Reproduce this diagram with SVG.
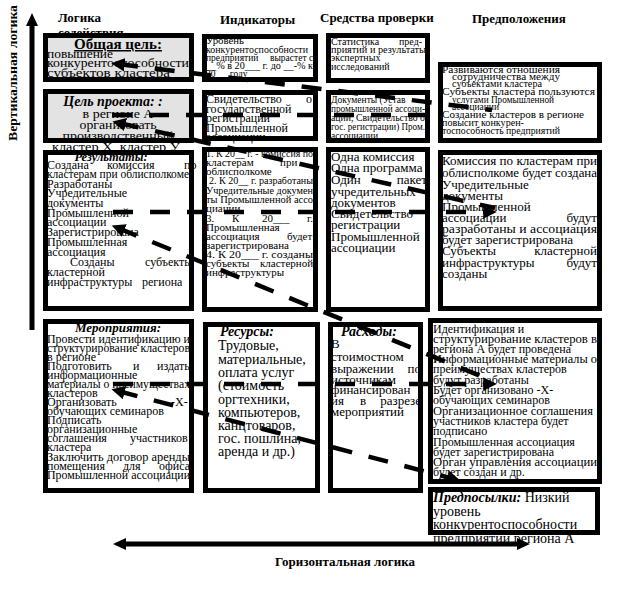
<svg xmlns="http://www.w3.org/2000/svg" width="623" height="607" viewBox="0 0 623 607">
<defs>
<style>
text{font-family:"Liberation Serif","Times New Roman",serif;fill:#000}
.hd{font-weight:bold;font-size:13px}
.bi{font-weight:bold;font-style:italic}
.bg{fill:#fff;stroke:none}
.gr{fill:#e3e3e3;stroke:none}
.bd{fill:none;stroke:#000;stroke-width:5}
.dl{fill:none;stroke:#000;stroke-width:4.5;stroke-dasharray:20 17}
.ax{fill:#000}
.f95{font-size:9.5px}.f10{font-size:10px}.f11{font-size:11px}.f12{font-size:12px}.f125{font-size:12.5px}.f13{font-size:13px}.f135{font-size:13.5px}.f14{font-size:14px}
</style>
<marker id="ah" viewBox="0 0 10 10" refX="5" refY="5" markerWidth="3" markerHeight="3" orient="auto-start-reverse" markerUnits="strokeWidth">
<path d="M0,0 L10,5 L0,10 z" fill="#000"/>
</marker>
</defs>
<rect x="0" y="0" width="623" height="607" fill="#fff"/>

<g id="headers">
<text class="hd" x="58" y="22">Логика</text>
<text class="hd" x="58" y="37">содействия</text>
<text class="hd" x="220" y="24">Индикаторы</text>
<text class="hd" x="320" y="22">Средства проверки</text>
<text class="hd" x="472" y="23">Предположения</text>
<text class="hd" transform="translate(17,141) rotate(-90)" textLength="136" lengthAdjust="spacingAndGlyphs">Вертикальная логика</text>
<text class="hd" x="345" y="566" text-anchor="middle">Горизонтальная логика</text>
</g>

<g id="axes">
<path class="ax" d="M32,13 L38,26 L34.5,26 L34.5,330 L29.5,330 L29.5,26 L26,26 Z"/>
<path class="ax" d="M113,544 L126,538 L126,541.5 L517,541.5 L517,538 L530,544 L517,550 L517,546.5 L126,546.5 L126,550 Z"/>
</g>

<g id="goal">
<rect class="gr" x="43" y="33" width="151" height="49"/>
<text x="118" y="49" text-anchor="middle" font-size="15" font-weight="bold" text-decoration="underline">Общая цель:</text>
<text class="f125" x="47" y="58" textLength="66" lengthAdjust="spacingAndGlyphs">повышение</text>
<text class="f125" x="47" y="67" textLength="142" lengthAdjust="spacingAndGlyphs">конкурентоспособности</text>
<text class="f125" x="47" y="77" textLength="123" lengthAdjust="spacingAndGlyphs">субъектов кластера</text>
<rect class="bd" x="45.5" y="35.5" width="146" height="44"/>
</g>

<g id="purpose">
<rect class="gr" x="43" y="89" width="151" height="54"/>
<text class="bi" x="113" y="106" font-size="14" text-anchor="middle">Цель проекта: :</text>
<text class="f13" x="118" y="118" text-anchor="middle" textLength="71" lengthAdjust="spacingAndGlyphs">в регионе А</text>
<text class="f13" x="118" y="129" text-anchor="middle" textLength="77" lengthAdjust="spacingAndGlyphs">организовать</text>
<text class="f13" x="118" y="140" text-anchor="middle" textLength="111" lengthAdjust="spacingAndGlyphs">производственный</text>
<text class="f13" x="116" y="151" text-anchor="middle" textLength="128" lengthAdjust="spacingAndGlyphs">кластер Х, кластер У</text>
<rect class="bd" x="45.5" y="91.5" width="146" height="49"/>
</g>

<g id="results">
<rect class="bg" x="43" y="150" width="151" height="161"/>
<text class="bi" x="111" y="161" font-size="12.5" text-anchor="middle">Результаты:</text>
<text class="f12" y="169"><tspan x="47">Создана</tspan><tspan x="107">комиссия</tspan><tspan x="184">по</tspan></text>
<text class="f12" x="47" y="178" textLength="142" lengthAdjust="spacingAndGlyphs">кластерам при облисполкоме</text>
<text class="f12" x="47" y="188">Разработаны</text>
<text class="f12" x="47" y="197">Учредительные</text>
<text class="f12" x="47" y="207">документы</text>
<text class="f12" x="47" y="217">Промышленной</text>
<text class="f12" x="47" y="226">ассоциации</text>
<text class="f12" x="47" y="236">Зарегистрирована</text>
<text class="f12" x="47" y="246">Промышленная</text>
<text class="f12" x="47" y="256">ассоциация</text>
<text class="f12" y="266"><tspan x="70">Созданы</tspan><tspan x="145">субъекты</tspan></text>
<text class="f12" x="47" y="276">кластерной</text>
<text class="f12" y="286"><tspan x="47">инфраструктуры</tspan><tspan x="142">региона</tspan></text>
<rect class="bd" x="45.5" y="152.5" width="146" height="156"/>
</g>

<g id="activities">
<rect class="bg" x="43" y="319" width="151" height="174"/>
<text class="bi" x="118" y="332" font-size="13" text-anchor="middle">Мероприятия:</text>
<text class="f12" x="47" y="343" textLength="143" lengthAdjust="spacingAndGlyphs">Провести идентификацию и</text>
<text class="f12" x="47" y="352" textLength="143" lengthAdjust="spacingAndGlyphs">структурирование кластеров</text>
<text class="f12" x="47" y="361">в регионе</text>
<text class="f12" y="370"><tspan x="47">Подготовить</tspan><tspan x="133">и</tspan><tspan x="157">издать</tspan></text>
<text class="f12" x="47" y="379">информационные</text>
<text class="f12" x="47" y="388" textLength="143" lengthAdjust="spacingAndGlyphs">материалы о преимуществах</text>
<text class="f12" x="47" y="397">кластеров</text>
<text class="f12" y="406"><tspan x="47">Организовать</tspan><tspan x="171">-Х-</tspan></text>
<text class="f12" x="47" y="415">обучающих семинаров</text>
<text class="f12" x="47" y="424">Подписать</text>
<text class="f12" x="47" y="433">организационные</text>
<text class="f12" y="442"><tspan x="47">соглашения</tspan><tspan x="130">участников</tspan></text>
<text class="f12" x="47" y="451">кластера</text>
<text class="f12" x="47" y="461" textLength="143" lengthAdjust="spacingAndGlyphs">Заключить договор аренды</text>
<text class="f12" y="470"><tspan x="47">помещения</tspan><tspan x="123">для</tspan><tspan x="159">офиса</tspan></text>
<text class="f12" x="47" y="479" textLength="143" lengthAdjust="spacingAndGlyphs">Промышленной ассоциации</text>
<rect class="bd" x="45.5" y="321.5" width="146" height="169"/>
</g>

<g id="ind-goal">
<rect class="bg" x="202" y="34" width="116" height="48"/>
<text class="f95" x="206" y="44" textLength="38" lengthAdjust="spacingAndGlyphs">Уровень</text>
<text class="f95" x="206" y="53" textLength="102" lengthAdjust="spacingAndGlyphs">конкурентоспособности</text>
<text class="f95" y="61"><tspan x="206">предприятий</tspan><tspan x="270">вырастет</tspan><tspan x="309">с</tspan></text>
<text class="f95" x="206" y="69" textLength="107" lengthAdjust="spacingAndGlyphs">__% в 20___ г. до __-% к</text>
<text class="f95" x="206" y="77">20___году</text>
<rect class="bd" x="204.5" y="36.5" width="111" height="43"/>
</g>

<g id="ind-purpose">
<rect class="bg" x="202" y="90" width="116" height="51"/>
<text class="f12" y="103"><tspan x="206">Свидетельство</tspan><tspan x="306">о</tspan></text>
<text class="f12" x="206" y="113">государственной</text>
<text class="f12" x="206" y="122">регистрации</text>
<text class="f12" x="206" y="132">Промышленной</text>
<text class="f12" x="206" y="141">ассоциации</text>
<rect class="bd" x="204.5" y="92.5" width="111" height="46"/>
</g>

<g id="ind-results">
<rect class="bg" x="202" y="147" width="116" height="165"/>
<text class="f11" x="206" y="157" textLength="107" lengthAdjust="spacingAndGlyphs">1. К 20__ г. - комиссия по</text>
<text class="f11" y="166"><tspan x="206">кластерам</tspan><tspan x="280">при</tspan></text>
<text class="f11" x="206" y="175">облисполкоме</text>
<text class="f11" x="209" y="184" textLength="104" lengthAdjust="spacingAndGlyphs">2. К 20__ г. разработаны</text>
<text class="f11" x="206" y="194" textLength="107" lengthAdjust="spacingAndGlyphs">Учредительные докумен</text>
<text class="f11" x="206" y="203" textLength="107" lengthAdjust="spacingAndGlyphs">ты Промышленной ассо</text>
<text class="f11" x="206" y="212">циации</text>
<text class="f11" y="222"><tspan x="206">3.</tspan><tspan x="232">К</tspan><tspan x="262">20___</tspan><tspan x="307">г.</tspan></text>
<text class="f11" x="206" y="231">Промышленная</text>
<text class="f11" y="240"><tspan x="206">ассоциация</tspan><tspan x="287">будет</tspan></text>
<text class="f11" x="206" y="249">зарегистрирована</text>
<text class="f11" x="206" y="258" textLength="107" lengthAdjust="spacingAndGlyphs">4. К 20___ г. созданы</text>
<text class="f11" y="267"><tspan x="206">субъекты</tspan><tspan x="260">кластерной</tspan></text>
<text class="f11" x="206" y="276">инфраструктуры</text>
<rect class="bd" x="204.5" y="149.5" width="111" height="160"/>
</g>

<g id="resources">
<rect class="bg" x="203" y="322" width="117" height="171"/>
<text class="bi" x="220" y="336" font-size="14">Ресурсы:</text>
<text class="f14" x="218" y="350">Трудовые,</text>
<text class="f14" x="218" y="364">материальные,</text>
<text class="f14" x="218" y="377">оплата услуг</text>
<text class="f14" x="218" y="390">(стоимость</text>
<text class="f14" x="218" y="404">оргтехники,</text>
<text class="f14" x="218" y="417">компьютеров,</text>
<text class="f14" x="218" y="430">канцтоваров,</text>
<text class="f14" x="218" y="443">гос. пошлина,</text>
<text class="f14" x="218" y="456">аренда и др.)</text>
<rect class="bd" x="205.5" y="324.5" width="112" height="166"/>
</g>

<g id="mov-goal">
<rect class="bg" x="326" y="33" width="104" height="50"/>
<text class="f10" y="45"><tspan x="331">Статистика</tspan><tspan x="399">пред-</tspan></text>
<text class="f10" x="331" y="53" textLength="95" lengthAdjust="spacingAndGlyphs">приятий и результаты</text>
<text class="f10" x="331" y="61">экспертных</text>
<text class="f10" x="331" y="70">исследований</text>
<rect class="bd" x="328.5" y="35.5" width="99" height="45"/>
</g>

<g id="mov-purpose">
<rect class="bg" x="326" y="90" width="104" height="53"/>
<text class="f95" x="331" y="103">Документы (Устав</text>
<text class="f95" x="331" y="112" textLength="94" lengthAdjust="spacingAndGlyphs">промышленной ассоци-</text>
<text class="f95" x="331" y="121" textLength="94" lengthAdjust="spacingAndGlyphs">ации, Свидетельство о</text>
<text class="f95" x="331" y="130" textLength="94" lengthAdjust="spacingAndGlyphs">гос. регистрации) Пром.</text>
<text class="f95" x="331" y="139">ассоциации</text>
<rect class="bd" x="328.5" y="92.5" width="99" height="48"/>
</g>

<g id="mov-results">
<rect class="bg" x="326" y="147" width="104" height="165"/>
<text class="f13" x="331" y="161">Одна комиссия</text>
<text class="f13" x="331" y="172">Одна программа</text>
<text class="f13" x="331" y="184">Один</text>
<text class="f13" x="427" y="184" text-anchor="end">пакет</text>
<text class="f13" x="331" y="196">учредительных</text>
<text class="f13" x="331" y="207">документов</text>
<text class="f13" x="331" y="218">Свидетельство</text>
<text class="f13" x="331" y="229">регистрации</text>
<text class="f13" x="331" y="241">Промышленной</text>
<text class="f13" x="331" y="252">ассоциации</text>
<rect class="bd" x="328.5" y="149.5" width="99" height="160"/>
</g>

<g id="costs">
<rect class="bg" x="328" y="322" width="95" height="171"/>
<text class="bi" x="341" y="336" font-size="14">Расходы:</text>
<text class="f13" x="331" y="348">В</text>
<text class="f13" x="331" y="361">стоимостном</text>
<text class="f13" x="331" y="373">выражении</text>
<text class="f13" x="421" y="373" text-anchor="end">по</text>
<text class="f13" x="331" y="384">источникам</text>
<text class="f13" x="331" y="394">финансирован</text>
<text class="f13" y="405"><tspan x="331">ия</tspan><tspan x="360">в</tspan></text>
<text class="f13" x="421" y="405" text-anchor="end">разрезе</text>
<text class="f13" x="331" y="416">мероприятий</text>
<rect class="bd" x="330.5" y="324.5" width="90" height="166"/>
</g>

<g id="assump-goal">
<rect class="bg" x="438" y="62" width="164" height="81"/>
<text class="f10" x="442" y="73" textLength="118" lengthAdjust="spacingAndGlyphs">Развиваются отношения</text>
<text class="f10" x="452" y="80" textLength="108" lengthAdjust="spacingAndGlyphs">сотрудничества между</text>
<text class="f10" x="452" y="87" textLength="90" lengthAdjust="spacingAndGlyphs">субъектами кластера</text>
<text class="f10" x="442" y="95" textLength="153" lengthAdjust="spacingAndGlyphs">Субъекты кластера пользуются</text>
<text class="f10" x="452" y="103" textLength="102" lengthAdjust="spacingAndGlyphs">услугами Промышленной</text>
<text class="f10" x="452" y="110" textLength="47" lengthAdjust="spacingAndGlyphs">ассоциации</text>
<text class="f10" x="442" y="118" textLength="142" lengthAdjust="spacingAndGlyphs">Создание кластеров в регионе</text>
<text class="f10" x="442" y="126" textLength="82" lengthAdjust="spacingAndGlyphs">повысит конкурен-</text>
<text class="f10" x="442" y="134" textLength="118" lengthAdjust="spacingAndGlyphs">тоспособность предприятий</text>
<rect class="bd" x="440.5" y="64.5" width="159" height="76"/>
</g>

<g id="assump-results">
<rect class="bg" x="438" y="150" width="164" height="161"/>
<text class="f13" x="442" y="165" textLength="155" lengthAdjust="spacingAndGlyphs">Комиссия по кластерам при</text>
<text class="f13" x="442" y="177" textLength="155" lengthAdjust="spacingAndGlyphs">облисполкоме будет создана</text>
<text class="f13" x="442" y="189">Учредительные</text>
<text class="f13" x="442" y="200">документы</text>
<text class="f13" x="442" y="211">Промышленной</text>
<text class="f13" x="442" y="222">ассоциации</text>
<text class="f13" x="597" y="222" text-anchor="end">будут</text>
<text class="f13" x="442" y="233" textLength="155" lengthAdjust="spacingAndGlyphs">разработаны и ассоциация</text>
<text class="f13" x="442" y="244">будет  зарегистрирована</text>
<text class="f13" x="442" y="255">Субъекты</text>
<text class="f13" x="597" y="255" text-anchor="end">кластерной</text>
<text class="f13" x="442" y="267">инфраструктуры</text>
<text class="f13" x="597" y="267" text-anchor="end">будут</text>
<text class="f13" x="442" y="278">созданы</text>
<rect class="bd" x="440.5" y="152.5" width="159" height="156"/>
</g>

<g id="assump-activities">
<rect class="bg" x="428" y="318" width="174" height="166"/>
<text class="f12" x="433" y="333">Идентификация и</text>
<text class="f12" x="433" y="343" textLength="164" lengthAdjust="spacingAndGlyphs">структурирование кластеров в</text>
<text class="f12" x="433" y="353">региона А будет проведена</text>
<text class="f12" x="433" y="363" textLength="164" lengthAdjust="spacingAndGlyphs">Информационные материалы о</text>
<text class="f12" x="433" y="373">преимуществах кластеров</text>
<text class="f12" x="433" y="384">будут разработаны</text>
<text class="f12" x="433" y="394">Будет организовано -Х-</text>
<text class="f12" x="433" y="404">обучающих семинаров</text>
<text class="f12" x="433" y="415" textLength="160" lengthAdjust="spacingAndGlyphs">Организационное соглашения</text>
<text class="f12" x="433" y="425">участников кластера будет</text>
<text class="f12" x="433" y="435">подписано</text>
<text class="f12" x="433" y="446">Промышленная ассоциация</text>
<text class="f12" x="433" y="456">будет зарегистрирована</text>
<text class="f12" x="433" y="466" textLength="164" lengthAdjust="spacingAndGlyphs">Орган управления ассоциации</text>
<text class="f12" x="433" y="476">будет создан и др.</text>
<rect class="bd" x="430.5" y="320.5" width="169" height="161"/>
</g>

<g id="preconditions">
<rect class="bg" x="428" y="487" width="172" height="48"/>
<text class="f14" x="433" y="502"><tspan class="bi">Предпосылки:</tspan> Низкий</text>
<text class="f14" x="433" y="516">уровень</text>
<text class="f14" x="433" y="529">конкурентоспособности</text>
<rect class="bd" x="430.5" y="489.5" width="167" height="43"/>
<text class="f14" x="433" y="543">предприятий региона А</text>
</g>

<g id="connectors">
<line class="dl" x1="118" y1="64" x2="492" y2="110" marker-start="url(#ah)"/>
<line class="dl" x1="112" y1="115" x2="436" y2="115"/>
<line class="dl" x1="119" y1="123" x2="495" y2="208" marker-start="url(#ah)"/>
<line class="dl" x1="113" y1="212" x2="490" y2="212" marker-end="url(#ah)"/>
<line class="dl" x1="118" y1="228" x2="488" y2="379" marker-start="url(#ah)"/>
<line class="dl" x1="113" y1="384" x2="490" y2="384" marker-end="url(#ah)"/>
<line class="dl" x1="118" y1="391" x2="454" y2="479" marker-start="url(#ah)" marker-end="url(#ah)"/>
</g>
</svg>
